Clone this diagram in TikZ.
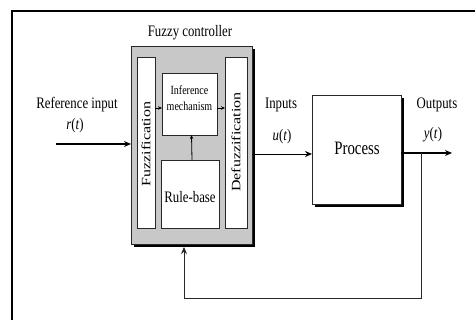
\documentclass[tikz,border=0pt]{standalone}
\usepackage{fontspec}
\setmainfont{Liberation Serif}
\usetikzlibrary{arrows.meta,shadows}
\newcommand{\cond}[1]{\scalebox{0.8}[1]{#1}}
\newcommand{\vcond}[1]{\scalebox{1}[0.8]{#1}}
\definecolor{boxgray}{RGB}{200,200,200}
\definecolor{linegray}{RGB}{40,40,40}
\begin{document}
\begin{tikzpicture}[x=1pt,y=-1pt,
  every node/.style={inner sep=0pt,outer sep=0pt},
  blk/.style={draw=linegray,line width=0.8pt,fill=white,rectangle},
  shad/.style={drop shadow={shadow xshift=3pt,shadow yshift=-3pt,fill=black,opacity=1}},
  arr/.style={draw=black,line width=1.1pt,-{Stealth[length=7pt,width=6pt]}},
  small/.style={draw=black,line width=0.8pt,-{Stealth[length=4pt,width=3.5pt]}},
  lbl/.style={font=\fontsize{16}{18}\selectfont}
]
\useasboundingbox (0,0) rectangle (475,320);
\fill[white] (0,0) rectangle (475,320);
\draw[line width=1.2pt,black] (12,320) -- (12,11) -- (475,11);

% fuzzy controller
\node[blk,fill=boxgray,shad,minimum width=121pt,minimum height=198pt] (ctrl) at (191.5,145) {};
\node[lbl] (ctitle) at (190,33) {\cond{Fuzzy controller}};
\node[blk,minimum width=18pt,minimum height=171pt] (fuzz) at (146,143) {};
\node[lbl,rotate=90] (fuzzt) at (146,144) {\vcond{Fuzzification}};
\node[blk,minimum width=55pt,minimum height=62pt] (inf) at (189.5,104) {};
\node[font=\fontsize{12.5}{12}\selectfont,align=center] (inft) at (189.5,98) {\cond{Inference}\\[4pt]\cond{mechanism}};
\node[blk,minimum width=58pt,minimum height=68pt] (rule) at (190,194) {};
\node[lbl] (rulet) at (190,197) {\cond{Rule-base}};
\node[blk,minimum width=22pt,minimum height=171pt] (defz) at (236,143) {};
\node[lbl,rotate=90] (defzt) at (236,142) {\vcond{Defuzzification}};

% process
\node[blk,shad,minimum width=89pt,minimum height=109pt] (proc) at (356.5,149.5) {};
\node[font=\fontsize{19}{20}\selectfont] (proct) at (357,148) {\scalebox{0.78}[1]{Process}};

% internal arrows
\draw[small] ([yshift=-4pt]fuzz.east |- inf.west) -- ([yshift=-4pt]inf.west);
\draw[small] ([yshift=-4pt]inf.east) -- ([yshift=-4pt]inf.east -| defz.west);
\draw[small] ([xshift=2pt]rule.north) -- ([xshift=2pt]inf.south);

% labels
\node[lbl] (refl) at (77,105) {\cond{Reference input}};
\node[lbl] (rt) at (75,126) {\cond{\textit{r}(\textit{t})}};
\node[lbl] (inl) at (281,105) {\cond{Inputs}};
\node[lbl] (ut) at (282,137) {\cond{\textit{u}(\textit{t})}};
\node[lbl] (outl) at (437,105) {\cond{Outputs}};
\node[lbl] (yt) at (433,135) {\cond{\textit{y}(\textit{t})}};

% connectors
\coordinate (rin) at (56,144);
\draw[arr] (rin) -- (rin -| ctrl.west);
\draw[arr,line width=0.8pt] ([yshift=-4.5pt]proc.west -| ctrl.east) -- ([yshift=-4.5pt]proc.west);
\coordinate (yout) at (452,153);
\draw[arr] (yout -| proc.east) -- (yout);
\coordinate (fb) at (421,153);
\coordinate (fbl) at (184,298);
\draw[line width=0.8pt,draw=linegray,-{Stealth[length=7pt,width=6pt]}] (fb) |- (fbl) -- ([yshift=-3pt]fbl |- ctrl.south);
\end{tikzpicture}
\end{document}
